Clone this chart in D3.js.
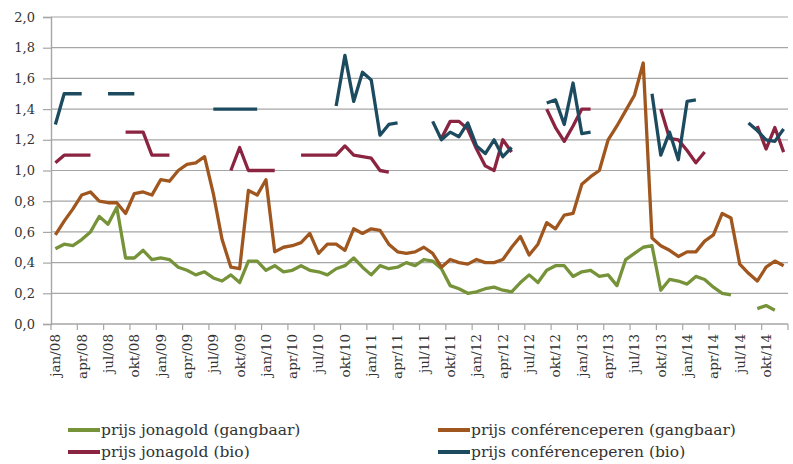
<!DOCTYPE html>
<html>
<head>
<meta charset="utf-8">
<script src="https://cdn.jsdelivr.net/npm/d3@7"></script>
<style>
  html, body { margin: 0; padding: 0; background: #ffffff; }
  svg { display: block; }
  text { font-family: "DejaVu Serif", "Liberation Serif", serif; fill: #333333; }
</style>
</head>
<body>
<svg id="chart" width="793" height="464"></svg>
<script>
// ---- data ----
const monthNames = ["jan","feb","mrt","apr","mei","jun","jul","aug","sep","okt","nov","dec"];
const years = ["08","09","10","11","12","13","14"];
const months = [];
years.forEach(y => monthNames.forEach(m => months.push(m + "/" + y)));

const yTicks = [0, 0.2, 0.4, 0.6, 0.8, 1.0, 1.2, 1.4, 1.6, 1.8, 2.0];

const jonagoldGangbaar = [
  0.49,0.52,0.51,0.55,0.60,0.70,0.65,0.76,0.43,0.43,0.48,0.42,
  0.43,0.42,0.37,0.35,0.32,0.34,0.30,0.28,0.32,0.27,0.41,0.41,
  0.35,0.38,0.34,0.35,0.38,0.35,0.34,0.32,0.36,0.38,0.43,0.37,
  0.32,0.38,0.36,0.37,0.40,0.38,0.42,0.41,0.36,0.25,0.23,0.20,
  0.21,0.23,0.24,0.22,0.21,0.27,0.32,0.27,0.35,0.38,0.38,0.31,
  0.34,0.35,0.31,0.32,0.25,0.42,0.46,0.50,0.51,0.22,0.29,0.28,
  0.26,0.31,0.29,0.24,0.20,0.19,null,null,0.10,0.12,0.09,null
];

const conferenceGangbaar = [
  0.58,0.67,0.75,0.84,0.86,0.80,0.79,0.79,0.72,0.85,0.86,0.84,
  0.94,0.93,1.00,1.04,1.05,1.09,0.85,0.55,0.37,0.36,0.87,0.84,
  0.94,0.47,0.50,0.51,0.53,0.59,0.46,0.52,0.52,0.48,0.62,0.59,
  0.62,0.61,0.52,0.47,0.46,0.47,0.50,0.46,0.37,0.42,0.40,0.39,
  0.42,0.40,0.40,0.42,0.50,0.57,0.45,0.52,0.66,0.62,0.71,0.72,
  0.91,0.96,1.00,1.20,1.29,1.39,1.49,1.70,0.56,0.51,0.48,0.44,
  0.47,0.47,0.54,0.58,0.72,0.69,0.39,0.33,0.28,0.37,0.41,0.38
];

const jonagoldBio = [
  1.05,1.10,1.10,1.10,1.10,null,null,null,1.25,1.25,1.25,1.10,
  1.10,1.10,null,null,null,null,null,null,1.00,1.15,1.00,1.00,
  1.00,1.00,null,null,1.10,1.10,1.10,1.10,1.10,1.16,1.10,1.09,
  1.08,1.00,0.99,null,null,null,null,null,1.21,1.32,1.32,1.27,
  1.14,1.03,1.00,1.20,1.12,null,null,null,1.40,1.28,1.19,1.29,
  1.40,1.40,null,null,null,null,null,null,null,1.40,1.21,1.20,
  1.13,1.05,1.12,null,null,null,null,null,1.29,1.14,1.28,1.12
];

const conferenceBio = [
  1.30,1.50,1.50,1.50,null,null,1.50,1.50,1.50,1.50,null,null,
  null,null,null,null,null,null,1.40,1.40,1.40,1.40,1.40,1.40,
  null,null,null,null,null,null,null,null,1.42,1.75,1.45,1.64,
  1.59,1.23,1.30,1.31,null,null,null,1.32,1.20,1.25,1.22,1.31,
  1.16,1.11,1.20,1.09,1.15,null,null,null,1.44,1.46,1.30,1.57,
  1.24,1.25,null,null,null,null,null,null,1.50,1.10,1.25,1.07,
  1.45,1.46,null,null,null,null,null,1.31,1.26,1.20,1.19,1.27
];

const seriesNames = [
  "prijs jonagold (gangbaar)",
  "prijs conférenceperen (gangbaar)",
  "prijs jonagold (bio)",
  "prijs conférenceperen (bio)"
];
const seriesValues = [jonagoldGangbaar, conferenceGangbaar, jonagoldBio, conferenceBio];
const seriesColors = ["#76933a", "#a0571f", "#8b2440", "#1c4b60"];

// ---- layout ----
const svg = d3.select("#chart");
const plotL = 51, plotR = 788, plotT = 17, plotB = 324;

const x = d3.scaleBand().domain(d3.range(months.length)).range([plotL, plotR]).padding(0);
const y = d3.scaleLinear().domain([0, 2]).range([plotB, plotT]);
const fmt = v => d3.format(".1f")(v).replace(".", ",");

// gridlines
svg.append("g")
  .selectAll("line")
  .data(yTicks.filter(v => v > 0))
  .join("line")
  .attr("x1", plotL).attr("x2", plotR)
  .attr("y1", d => y(d)).attr("y2", d => y(d))
  .attr("stroke", "#a6a6a6").attr("stroke-width", 1.2);

// y axis
const yAxis = svg.append("g")
  .attr("transform", `translate(${plotL},0)`)
  .call(d3.axisLeft(y).tickValues(yTicks).tickFormat(fmt).tickSize(8).tickPadding(8));
yAxis.select(".domain").attr("stroke", "#a6a6a6").attr("stroke-width", 1.4);
yAxis.selectAll(".tick line").attr("stroke", "#a6a6a6").attr("stroke-width", 1.2);
yAxis.selectAll(".tick text")
  .style("font-family", '"DejaVu Serif", serif').style("font-size", "13px").attr("fill", "#333");

// x axis baseline and ticks
const tickIdx = d3.range(0, months.length, 3);
const xAxisG = svg.append("g");
xAxisG.append("line")
  .attr("x1", plotL).attr("x2", plotR).attr("y1", plotB).attr("y2", plotB)
  .attr("stroke", "#a6a6a6").attr("stroke-width", 1.4);
xAxisG.selectAll("line.tk")
  .data(tickIdx.map(i => x(i)).concat([plotR]))
  .join("line").attr("class", "tk")
  .attr("x1", d => d).attr("x2", d => d)
  .attr("y1", plotB).attr("y2", plotB + 6)
  .attr("stroke", "#a6a6a6").attr("stroke-width", 1.2);
xAxisG.selectAll("text")
  .data(tickIdx)
  .join("text")
  .attr("transform", i => `translate(${x(i) + x.bandwidth() / 2},334) rotate(-90)`)
  .attr("text-anchor", "end")
  .attr("dy", "0.36em")
  .style("font-size", "13.5px")
  .text(i => months[i]);

// lines
const line = d3.line()
  .defined(d => d.v != null)
  .x(d => x(d.i) + x.bandwidth() / 2)
  .y(d => y(d.v));

seriesValues.forEach((vals, k) => {
  svg.append("path")
    .datum(vals.map((v, i) => ({ i, v })))
    .attr("fill", "none")
    .attr("stroke", seriesColors[k])
    .attr("stroke-width", 3.3)
    .attr("stroke-linejoin", "round")
    .attr("d", line);
});

// legend
const legendPos = [
  { x: 68, y: 430 }, { x: 438, y: 430 },
  { x: 68, y: 452 }, { x: 438, y: 452 }
];
const legend = svg.append("g");
seriesNames.forEach((name, k) => {
  const p = legendPos[k];
  legend.append("line")
    .attr("x1", p.x).attr("x2", p.x + 32)
    .attr("y1", p.y).attr("y2", p.y)
    .attr("stroke", seriesColors[k]).attr("stroke-width", 4);
  legend.append("text")
    .attr("x", p.x + 33).attr("y", p.y)
    .attr("dy", "0.35em")
    .style("font-size", "15.5px")
    .text(name);
});
</script>
</body>
</html>
